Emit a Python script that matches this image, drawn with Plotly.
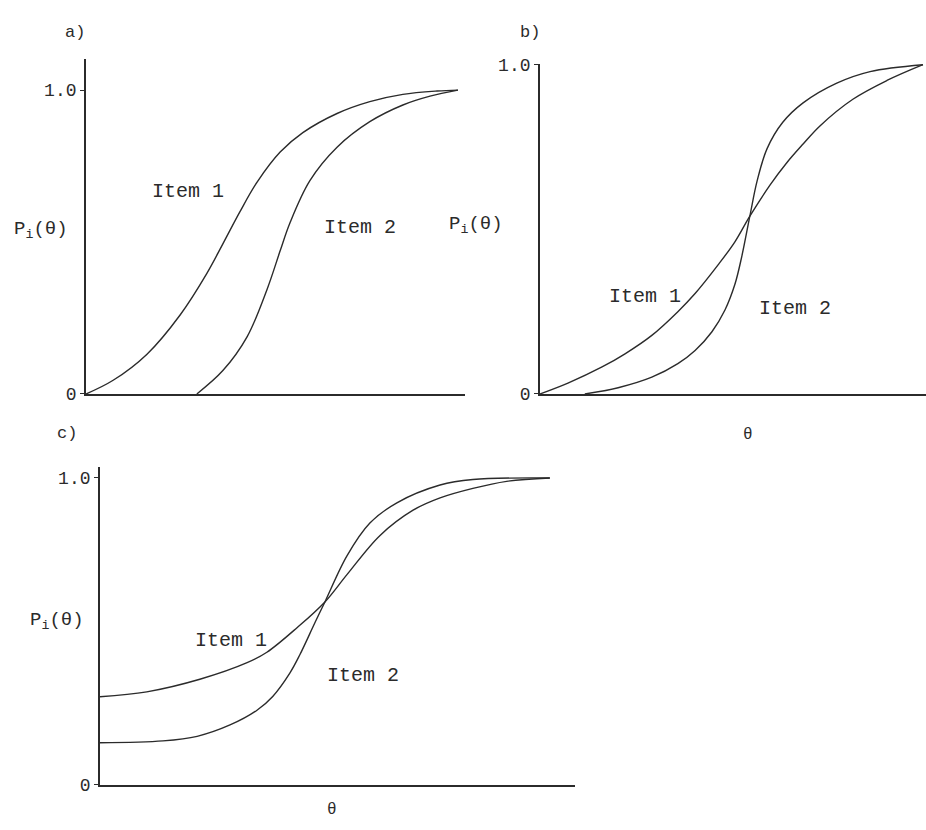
import plotly.graph_objects as go

# ---- data (normalised theta 0..1, probability 0..1) ----
a_item1_x = [0.0, 0.073, 0.164, 0.253, 0.325, 0.368, 0.414, 0.460, 0.522, 0.583, 0.675, 0.763, 0.852, 0.944, 1.0]
a_item1_y = [0.0, 0.045, 0.131, 0.260, 0.397, 0.494, 0.600, 0.697, 0.796, 0.860, 0.923, 0.962, 0.986, 0.997, 1.0]
a_item2_x = [0.298, 0.368, 0.433, 0.487, 0.522, 0.548, 0.602, 0.675, 0.763, 0.852, 0.925, 1.0]
a_item2_y = [0.0, 0.077, 0.188, 0.345, 0.471, 0.562, 0.702, 0.812, 0.896, 0.951, 0.980, 1.0]

b_item1_x = [0.0, 0.073, 0.162, 0.222, 0.292, 0.360, 0.405, 0.465, 0.509, 0.548, 0.601, 0.645, 0.687, 0.731, 0.817, 0.906, 1.0]
b_item1_y = [0.0, 0.033, 0.082, 0.122, 0.178, 0.250, 0.305, 0.392, 0.462, 0.540, 0.635, 0.703, 0.759, 0.814, 0.895, 0.952, 1.0]
b_item2_x = [0.117, 0.204, 0.292, 0.360, 0.405, 0.449, 0.483, 0.509, 0.527, 0.548, 0.567, 0.593, 0.634, 0.687, 0.775, 0.862, 1.0]
b_item2_y = [0.0, 0.019, 0.051, 0.092, 0.132, 0.189, 0.255, 0.333, 0.418, 0.540, 0.647, 0.745, 0.825, 0.884, 0.944, 0.979, 1.0]

c_item1_x = [0.0, 0.104, 0.222, 0.327, 0.371, 0.438, 0.500, 0.549, 0.622, 0.696, 0.756, 0.829, 0.904, 1.0]
c_item1_y = [0.287, 0.303, 0.344, 0.398, 0.432, 0.512, 0.596, 0.685, 0.812, 0.895, 0.935, 0.966, 0.989, 1.0]
c_item2_x = [0.0, 0.140, 0.216, 0.289, 0.349, 0.384, 0.422, 0.444, 0.478, 0.500, 0.549, 0.600, 0.660, 0.756, 0.829, 1.0]
c_item2_y = [0.137, 0.143, 0.158, 0.195, 0.243, 0.288, 0.364, 0.423, 0.529, 0.596, 0.746, 0.853, 0.919, 0.977, 0.995, 1.0]

y_tickvals = [0, 1]
y_ticktext = ["0", "1.0"]

W, H = 926, 830
FONT = "Liberation Mono"
INK = "#2b2b2b"

def px(x):
    return x / W

def py(y):
    return 1 - y / H

fig = go.Figure()

panels = [
    ("x", "y", a_item1_x, a_item1_y, a_item2_x, a_item2_y),
    ("x2", "y2", b_item1_x, b_item1_y, b_item2_x, b_item2_y),
    ("x3", "y3", c_item1_x, c_item1_y, c_item2_x, c_item2_y),
]
for xa, ya, x1, y1, x2, y2 in panels:
    for xs, ys in ((x1, y1), (x2, y2)):
        fig.add_trace(go.Scatter(
            x=xs, y=ys, mode="lines", xaxis=xa, yaxis=ya,
            line=dict(color=INK, width=1.4, shape="spline", smoothing=1.0),
            showlegend=False, hoverinfo="skip"))

common_x = dict(showgrid=False, zeroline=False, showline=True, linecolor=INK,
                linewidth=1.8, showticklabels=False, ticks="", fixedrange=True)
common_y = dict(showgrid=False, zeroline=False, showline=True, linecolor=INK,
                linewidth=1.8, tickvals=y_tickvals, ticktext=y_ticktext,
                ticks="outside", ticklen=4, tickcolor=INK,
                tickfont=dict(family=FONT, size=18, color=INK), fixedrange=True)

fig.update_layout(
    width=W, height=H,
    margin=dict(l=0, r=0, t=0, b=0),
    paper_bgcolor="white", plot_bgcolor="white",
    xaxis=dict(common_x, domain=[px(86), px(465)], range=[0, 1.019], anchor="y"),
    yaxis=dict(common_y, domain=[py(395), py(52)], range=[0, 1.103], anchor="x"),
    xaxis2=dict(common_x, domain=[px(540), 1.0], range=[0, 1.008], anchor="y2"),
    yaxis2=dict(common_y, domain=[py(395), py(57)], range=[0, 1.003], anchor="x2"),
    xaxis3=dict(common_x, domain=[px(100), px(575)], range=[0, 1.056], anchor="y3"),
    yaxis3=dict(common_y, domain=[py(795), py(470)], range=[0, 1.035], anchor="x3"),
)

def label(text, x, y, xanchor="left", size=20):
    fig.add_annotation(text=text, x=px(x), y=py(y), xref="paper", yref="paper",
                       xanchor=xanchor, yanchor="middle", showarrow=False,
                       font=dict(family=FONT, size=size, color=INK))

label("a)", 63, 25, size=17)
label("b)", 518, 25, size=17)
label("c)", 55, 435, size=17)

pi = "P<sub>i</sub>(θ)"
label(pi, 12, 227, size=19)
label(pi, 447, 222, size=19)
label(pi, 28, 627, size=19)

label("Item 1", 150, 188)
label("Item 2", 322, 225)
label("Item 1", 607, 295)
label("Item 2", 757, 308)
label("Item 1", 193, 647)
label("Item 2", 325, 683)

label("θ", 748, 437, xanchor="center", size=16)
label("θ", 332, 821, xanchor="center", size=16)

fig.write_html("out.html", config={"displayModeBar": False},
               post_script="document.body.style.margin='0';")
